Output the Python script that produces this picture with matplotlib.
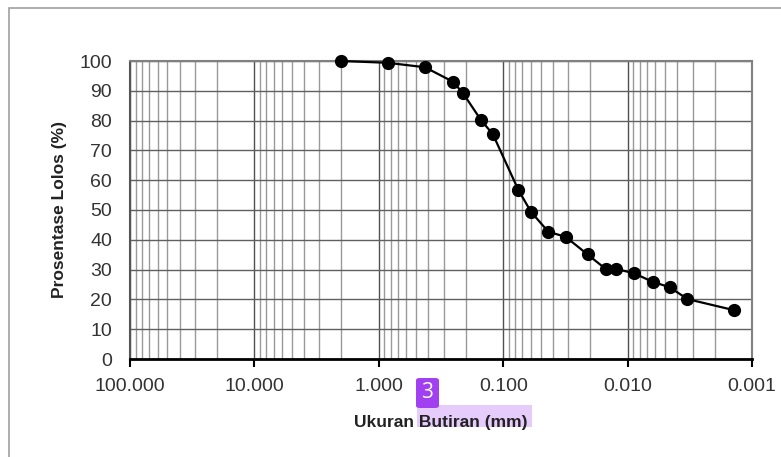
import matplotlib.pyplot as plt
from matplotlib.ticker import FixedLocator, LogLocator, NullFormatter
from matplotlib.patches import Rectangle, FancyBboxPatch

# ==========================================
# DATA
# ==========================================

grain_size = [2.0, 0.85, 0.425, 0.255, 0.212, 0.151, 0.121, 0.0755, 0.0598,
              0.0434, 0.0315, 0.021, 0.015, 0.0124, 0.0089, 0.0063, 0.0046,
              0.0033, 0.0014]
percent_finer = [100, 99.4, 97.9, 93.1, 89.4, 80.2, 75.4, 56.7, 49.4,
                 42.7, 41.0, 35.1, 30.2, 30.2, 28.8, 25.9, 24.1,
                 20.1, 16.4]

x_ticks = [100, 10, 1, 0.1, 0.01, 0.001]
x_tick_labels = ["100.000", "10.000", "1.000", "0.100", "0.010", "0.001"]
y_ticks = [0, 10, 20, 30, 40, 50, 60, 70, 80, 90, 100]

# ==========================================
# FIGURE
# ==========================================

plt.rcParams['font.family'] = ['Liberation Sans', 'DejaVu Sans']

fig = plt.figure(figsize=(7.81, 4.57), dpi=100)

# outer chart frame (cropped at right / bottom)
fig.patches.append(Rectangle((9 / 781, -0.05), 1.2, 1 - 8 / 457 + 0.05,
                             transform=fig.transFigure, fill=False,
                             edgecolor='#a0a0a0', linewidth=1.2))

ax = fig.add_axes([130 / 781, (457 - 359) / 457, 622 / 781, 298 / 457])

ax.set_xscale('log')
ax.set_xlim(100, 0.001)
ax.set_ylim(0, 100)

# ==========================================
# GRID
# ==========================================

ax.xaxis.set_major_locator(FixedLocator(x_ticks))
ax.set_xticklabels(x_tick_labels)
ax.xaxis.set_minor_locator(LogLocator(base=10, subs=range(2, 10), numticks=20))
ax.xaxis.set_minor_formatter(NullFormatter())
ax.set_yticks(y_ticks)

ax.grid(which='major', axis='x', color='#505050', linewidth=1.0)
ax.grid(which='minor', axis='x', color='#9a9a9a', linewidth=1.0)
ax.grid(which='major', axis='y', color='#606060', linewidth=1.0)
ax.set_axisbelow(True)

ax.tick_params(axis='x', which='major', direction='out', length=6,
               width=1.5, labelsize=14, pad=8, colors='black',
               labelcolor='#333333')
ax.tick_params(axis='x', which='minor', length=0)
ax.tick_params(axis='y', length=0, labelsize=14, pad=13,
               labelcolor='#333333')

for side in ['top', 'right']:
    ax.spines[side].set_color('#808080')
    ax.spines[side].set_linewidth(1.5)
ax.spines['left'].set_color('#555555')
ax.spines['left'].set_linewidth(1.5)
ax.spines['bottom'].set_color('black')
ax.spines['bottom'].set_linewidth(2)

# ==========================================
# CURVE
# ==========================================

ax.plot(grain_size, percent_finer, color='black', linewidth=1.6,
        marker='o', markersize=8.5, clip_on=False, zorder=5)

# ==========================================
# LABELS
# ==========================================

fig.text(60 / 781, 1 - 210 / 457, 'Prosentase Lolos (%)', rotation=90,
         ha='center', va='center', fontsize=12.5, fontweight='bold',
         color='#222222')

# highlight behind part of the x label
fig.patches.append(Rectangle((417 / 781, 1 - 427 / 457), 115 / 781, 22 / 457,
                             transform=fig.transFigure, facecolor='#e6ccfa',
                             edgecolor='none', zorder=0))

fig.text(441 / 781, 1 - 422 / 457, 'Ukuran Butiran (mm)', ha='center',
         va='center', fontsize=12.5, fontweight='bold', color='#222222')

# purple marker badge
fig.patches.append(FancyBboxPatch((416 / 781, 1 - 408 / 457), 23 / 781,
                                  30 / 457, transform=fig.transFigure,
                                  boxstyle='round,pad=0,rounding_size=0.005',
                                  facecolor='#a040f0', edgecolor='none',
                                  zorder=3))
fig.text(427.5 / 781, 1 - 393 / 457, '3', ha='center', va='center',
         fontsize=15, color='white', family=['Open Sans', 'DejaVu Sans'],
         zorder=4)

plt.savefig('out.png', dpi=100)
